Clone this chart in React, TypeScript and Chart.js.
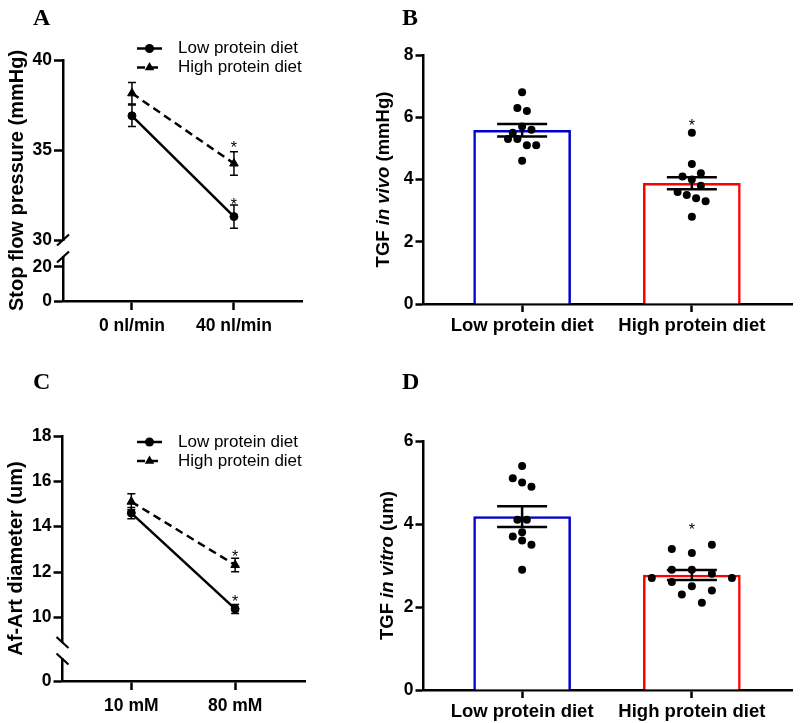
import React, { useEffect, useRef } from 'react';
import { Chart, registerables } from 'chart.js';

Chart.register(...registerables);

const SANS = "'Liberation Sans', Arial, Helvetica, sans-serif";
const SERIF = "'Liberation Serif', 'Times New Roman', serif";
const INK = '#000000';
const BLUE = '#0000cd';
const RED = '#ff0000';
const AXIS_W = 2.5;

const SERIES = ['Low protein diet', 'High protein diet'];

// ---------- Panel A ----------
const catsA = ['0 nl/min', '40 nl/min'];
const lowA = [36.9, 31.3];
const lowAErr = [0.6, 0.65];
const highA = [38.15, 34.25];
const highAErr = [0.6, 0.65];
const starsALow = [null, 32.2];
const starsAHigh = [null, 35.35];
const yTicksAUpper = [30, 35, 40];
const yTicksALower = [0, 20];
const titleA = [{ text: 'Stop flow pressure (mmHg)' }];

// ---------- Panel C ----------
const catsC = ['10 mM', '80 mM'];
const lowC = [14.6, 10.37];
const lowCErr = [0.25, 0.2];
const highC = [15.1, 12.31];
const highCErr = [0.35, 0.3];
const starsCLow = [null, 10.85];
const starsCHigh = [null, 12.85];
const yTicksCUpper = [10, 12, 14, 16, 18];
const yTicksCLower = [0];
const titleC = [{ text: 'Af-Art diameter (um)' }];

// ---------- Panel B ----------
const catsB = ['Low protein diet', 'High protein diet'];
const meanB = [5.58, 3.88];
const semB = [0.2, 0.19];
const starsB = [null, 5.87];
const ptsBLow = [6.8, 6.3, 6.2, 5.7, 5.5, 5.6, 5.3, 5.3, 5.1, 5.1, 4.6];
const jitBLow = [0, -0.028, 0.028, 0, -0.055, 0.055, -0.083, -0.028, 0.028, 0.083, 0];
const ptsBHigh = [5.5, 4.5, 4.1, 4.0, 4.2, 3.8, 3.6, 3.5, 3.4, 3.3, 2.8];
const jitBHigh = [0, 0, -0.055, 0, 0.053, 0.053, -0.084, -0.03, 0.025, 0.081, 0];
const yTicksB = [0, 2, 4, 6, 8];
const titleB = [{ text: 'TGF ' }, { text: 'in vivo', italic: true }, { text: ' (mmHg)' }];

// ---------- Panel D ----------
const catsD = ['Low protein diet', 'High protein diet'];
const meanD = [4.18, 2.77];
const semD = [0.25, 0.12];
const starsD = [null, 3.95];
const ptsDLow = [5.4, 5.1, 5.0, 4.9, 4.1, 4.1, 3.8, 3.7, 3.6, 3.5, 2.9];
const jitDLow = [0, -0.055, 0, 0.055, -0.028, 0.028, 0, -0.055, 0, 0.055, 0];
const ptsDHigh = [3.5, 3.4, 3.3, 2.9, 2.9, 2.8, 2.7, 2.7, 2.6, 2.5, 2.4, 2.3, 2.1];
const jitDHigh = [0.118, -0.118, 0, -0.118, 0, 0.118, -0.236, 0.236, -0.118, 0, 0.118, -0.059, 0.059];
const yTicksD = [0, 2, 4, 6];
const titleD = [{ text: 'TGF ' }, { text: 'in vitro', italic: true }, { text: ' (um)' }];

type Part = { text: string; italic?: boolean };

function drawMarker(ctx: CanvasRenderingContext2D, style: string, x: number, y: number, r: number) {
  ctx.fillStyle = INK;
  ctx.beginPath();
  if (style === 'triangle') {
    ctx.moveTo(x, y - r);
    ctx.lineTo(x + r * 0.866, y + r * 0.5);
    ctx.lineTo(x - r * 0.866, y + r * 0.5);
    ctx.closePath();
  } else {
    ctx.arc(x, y, r, 0, Math.PI * 2);
  }
  ctx.fill();
}

function drawTitle(ctx: CanvasRenderingContext2D, parts: Part[], cx: number, cy: number, size: number) {
  ctx.save();
  ctx.translate(cx, cy);
  ctx.rotate(-Math.PI / 2);
  const fonts = parts.map((p) => `${p.italic ? 'italic ' : ''}bold ${size}px ${SANS}`);
  let total = 0;
  const widths = parts.map((p, i) => {
    ctx.font = fonts[i];
    const w = ctx.measureText(p.text).width;
    total += w;
    return w;
  });
  let x = -total / 2;
  ctx.textBaseline = 'middle';
  ctx.textAlign = 'left';
  ctx.fillStyle = INK;
  parts.forEach((p, i) => {
    ctx.font = fonts[i];
    ctx.fillText(p.text, x, 0);
    x += widths[i];
  });
  ctx.restore();
}

const errorPlugin = {
  id: 'errorBars',
  afterDatasetsDraw(chart: any) {
    const ctx: CanvasRenderingContext2D = chart.ctx;
    chart.data.datasets.forEach((ds: any, di: number) => {
      const meta = chart.getDatasetMeta(di);
      const ys = meta.yScale;
      if (ds.errors) {
        meta.data.forEach((el: any, i: number) => {
          const v = ds.data[i].y;
          const e = ds.errors[i];
          const yt = ys.getPixelForValue(v + e);
          const yb = ys.getPixelForValue(v - e);
          ctx.save();
          ctx.strokeStyle = INK;
          ctx.lineWidth = ds.errLineWidth;
          ctx.beginPath();
          ctx.moveTo(el.x, yt);
          ctx.lineTo(el.x, yb);
          ctx.moveTo(el.x - ds.errCap, yt);
          ctx.lineTo(el.x + ds.errCap, yt);
          ctx.moveTo(el.x - ds.errCap, yb);
          ctx.lineTo(el.x + ds.errCap, yb);
          ctx.stroke();
          ctx.restore();
        });
      }
      if (ds.stars) {
        meta.data.forEach((el: any, i: number) => {
          const s = ds.stars[i];
          if (s == null) return;
          const y = ys.getPixelForValue(s);
          ctx.save();
          ctx.fillStyle = INK;
          ctx.font = `16px ${SANS}`;
          ctx.textAlign = 'center';
          ctx.textBaseline = 'alphabetic';
          ctx.fillText('*', el.x, y + 0.58 * 16);
          ctx.restore();
        });
      }
    });
  },
};

interface Decor {
  letter: string;
  letterX: number;
  letterY: number;
  title: Part[];
  titleX: number;
  titleSize: number;
  breaks?: { upper: string; lower: string; dir: number };
  legend?: { x: number; y: number; rowH: number; len: number; textX: number; size: number };
}

function decorPlugin(d: Decor) {
  return {
    id: 'decor',
    afterDraw(chart: any) {
      const ctx: CanvasRenderingContext2D = chart.ctx;
      const ca = chart.chartArea;
      ctx.save();
      ctx.fillStyle = INK;
      ctx.font = `bold 24px ${SERIF}`;
      ctx.textAlign = 'left';
      ctx.textBaseline = 'alphabetic';
      ctx.fillText(d.letter, d.letterX, d.letterY);
      drawTitle(ctx, d.title, d.titleX, (ca.top + ca.bottom) / 2, d.titleSize);
      if (d.breaks) {
        const up = chart.scales[d.breaks.upper];
        const lo = chart.scales[d.breaks.lower];
        const x = ca.left;
        [up.bottom, lo.top].forEach((y: number) => {
          ctx.strokeStyle = INK;
          ctx.lineWidth = 2.2;
          ctx.beginPath();
          ctx.moveTo(x - 6, y + 5.5 * d.breaks!.dir);
          ctx.lineTo(x + 6, y - 5.5 * d.breaks!.dir);
          ctx.stroke();
        });
      }
      if (d.legend) {
        const L = d.legend;
        chart.data.datasets.forEach((ds: any, i: number) => {
          const y = L.y + i * L.rowH;
          ctx.strokeStyle = ds.borderColor;
          ctx.lineWidth = ds.borderWidth;
          ctx.setLineDash(ds.borderDash || []);
          ctx.beginPath();
          ctx.moveTo(L.x, y);
          ctx.lineTo(L.x + L.len, y);
          ctx.stroke();
          ctx.setLineDash([]);
          drawMarker(ctx, ds.pointStyle, L.x + L.len / 2, y, ds.pointRadius + 0.5);
          ctx.fillStyle = INK;
          ctx.font = `${L.size}px ${SANS}`;
          ctx.textAlign = 'left';
          ctx.textBaseline = 'middle';
          ctx.fillText(ds.label, L.textX, y);
        });
      }
      ctx.restore();
    },
  };
}

function xAxis(min: number, max: number, cats: string[], height: number, size: number, tickLen: number, pad: number) {
  return {
    type: 'linear',
    position: 'bottom',
    min,
    max,
    offset: false,
    afterBuildTicks: (s: any) => {
      s.ticks = cats.map((_, i) => ({ value: i }));
    },
    afterFit: (s: any) => {
      s.height = height;
    },
    border: { display: true, color: INK, width: AXIS_W },
    grid: { display: true, offset: false, drawOnChartArea: false, drawTicks: true, tickLength: tickLen, tickWidth: AXIS_W, tickColor: INK },
    ticks: {
      color: INK,
      font: { family: SANS, size, weight: 'bold' },
      padding: pad,
      autoSkip: false,
      maxRotation: 0,
      minRotation: 0,
      callback: (v: any) => cats[v] ?? '',
    },
  };
}

function yAxis(o: any) {
  const s: any = {
    type: 'linear',
    position: 'left',
    min: o.min,
    max: o.max,
    afterBuildTicks: (sc: any) => {
      sc.ticks = o.ticks.map((v: number) => ({ value: v }));
    },
    afterFit: (sc: any) => {
      sc.width = o.width;
    },
    border: { display: true, color: INK, width: AXIS_W },
    grid: { display: true, drawOnChartArea: false, drawTicks: true, tickLength: o.tickLen, tickWidth: AXIS_W, tickColor: INK },
    ticks: { color: INK, font: { family: SANS, size: o.size, weight: 'bold' }, padding: 2, autoSkip: false },
  };
  if (o.stack) {
    s.stack = o.stack;
    s.stackWeight = o.stackWeight;
    s.weight = o.weight;
  }
  return s;
}

function gapAxis(stack: string, stackWeight: number, weight: number, width: number) {
  return {
    type: 'linear',
    position: 'left',
    min: 0,
    max: 1,
    stack,
    stackWeight,
    weight,
    afterFit: (sc: any) => {
      sc.width = width;
    },
    border: { display: false },
    grid: { display: false },
    ticks: { display: false },
  };
}

function lineSeries(label: string, vals: number[], errs: number[], stars: any[], axis: string, high: boolean) {
  return {
    label,
    data: vals.map((y, i) => ({ x: i, y })),
    yAxisID: axis,
    borderColor: INK,
    backgroundColor: INK,
    borderWidth: 2.5,
    borderDash: high ? [8, 5] : [],
    pointStyle: high ? 'triangle' : 'circle',
    pointRadius: high ? 5 : 4,
    pointBorderWidth: 1,
    pointBorderColor: INK,
    pointBackgroundColor: INK,
    errors: errs,
    errCap: 4,
    errLineWidth: 1.5,
    stars,
  };
}

function buildLine(p: any) {
  return {
    type: 'line',
    data: {
      datasets: [
        lineSeries(SERIES[0], p.low, p.lowErr, p.lowStars, 'yUp', false),
        lineSeries(SERIES[1], p.high, p.highErr, p.highStars, 'yUp', true),
      ],
    },
    options: {
      responsive: false,
      maintainAspectRatio: false,
      animation: false,
      events: [],
      layout: { padding: { top: p.padTop, right: p.padRight, left: 0, bottom: 0 } },
      plugins: { legend: { display: false }, tooltip: { enabled: false } },
      scales: {
        x: xAxis(p.xMin, p.xMax, p.cats, p.xHeight, 17.5, 9, 6),
        yLow: yAxis({ min: 0, max: p.lowMax, ticks: p.lowTicks, width: p.yWidth, size: 17.5, tickLen: 9, stack: 's', stackWeight: p.wLow, weight: 1 }),
        yGap: gapAxis('s', p.wGap, 2, p.yWidth),
        yUp: yAxis({ min: p.upMin, max: p.upMax, ticks: p.upTicks, width: p.yWidth, size: 17.5, tickLen: 9, stack: 's', stackWeight: p.wUp, weight: 3 }),
      },
    },
    plugins: [errorPlugin, decorPlugin(p.decor)],
  };
}

function buildBars(p: any) {
  const pts = [
    ...p.lowPts.map((y: number, i: number) => ({ x: 0 + p.lowJit[i], y })),
    ...p.highPts.map((y: number, i: number) => ({ x: 1 + p.highJit[i], y })),
  ];
  return {
    type: 'bar',
    data: {
      datasets: [
        {
          type: 'scatter',
          label: 'individual',
          data: pts,
          backgroundColor: INK,
          borderColor: INK,
          pointRadius: 4,
          pointBorderWidth: 0,
          order: 0,
        },
        {
          type: 'bar',
          label: 'mean',
          data: p.means.map((y: number, i: number) => ({ x: i, y })),
          backgroundColor: '#ffffff',
          borderColor: [BLUE, RED],
          borderWidth: 2.5,
          barThickness: 97,
          order: 1,
          errors: p.sems,
          errCap: 25,
          errLineWidth: 2.5,
          stars: p.stars,
        },
      ],
    },
    options: {
      responsive: false,
      maintainAspectRatio: false,
      animation: false,
      events: [],
      layout: { padding: { top: p.padTop, right: p.padRight, left: 0, bottom: 0 } },
      plugins: { legend: { display: false }, tooltip: { enabled: false } },
      scales: {
        x: xAxis(-0.581, 1.59, p.cats, p.xHeight, 18.5, 8, 3),
        y: yAxis({ min: 0, max: p.yMax, ticks: p.yTicks, width: 58.5, size: 17.5, tickLen: 8 }),
      },
    },
    plugins: [errorPlugin, decorPlugin(p.decor)],
  };
}

const buildA = () =>
  buildLine({
    cats: catsA, low: lowA, lowErr: lowAErr, high: highA, highErr: highAErr,
    lowStars: starsALow, highStars: starsAHigh,
    xMin: -0.676, xMax: 1.667, xHeight: 61, padTop: 60, padRight: 63, yWidth: 63,
    lowMax: 25.7, lowTicks: yTicksALower, upMin: 30, upMax: 40, upTicks: yTicksAUpper,
    wLow: 44, wGap: 17, wUp: 180,
    decor: {
      letter: 'A', letterX: 33, letterY: 25, title: titleA, titleX: 17, titleSize: 20,
      breaks: { upper: 'yUp', lower: 'yLow', dir: 1 },
      legend: { x: 137, y: 48.5, rowH: 19, len: 25, textX: 178, size: 17 },
    },
  });

const buildC = () =>
  buildLine({
    cats: catsC, low: lowC, lowErr: lowCErr, high: highC, highErr: highCErr,
    lowStars: starsCLow, highStars: starsCHigh,
    xMin: -0.663, xMax: 1.673, xHeight: 42, padTop: 74, padRight: 60, yWidth: 62.5,
    lowMax: 1, lowTicks: yTicksCLower, upMin: 8.89, upMax: 18, upTicks: yTicksCUpper,
    wLow: 22, wGap: 16.5, wUp: 206.5,
    decor: {
      letter: 'C', letterX: 33, letterY: 27, title: titleC, titleX: 16, titleSize: 20,
      breaks: { upper: 'yUp', lower: 'yLow', dir: -1 },
      legend: { x: 137, y: 80, rowH: 19, len: 25, textX: 178, size: 17 },
    },
  });

const buildB = () =>
  buildBars({
    cats: catsB, means: meanB, sems: semB, stars: starsB,
    lowPts: ptsBLow, lowJit: jitBLow, highPts: ptsBHigh, highJit: jitBHigh,
    yMax: 8, yTicks: yTicksB, padTop: 55, padRight: 8, xHeight: 58,
    decor: { letter: 'B', letterX: 37, letterY: 25, title: titleB, titleX: 19, titleSize: 18.5 },
  });

const buildD = () =>
  buildBars({
    cats: catsD, means: meanD, sems: semD, stars: starsD,
    lowPts: ptsDLow, lowJit: jitDLow, highPts: ptsDHigh, highJit: jitDHigh,
    yMax: 6, yTicks: yTicksD, padTop: 79, padRight: 8, xHeight: 33,
    decor: { letter: 'D', letterX: 37, letterY: 27, title: titleD, titleX: 23, titleSize: 18.5 },
  });

function Panel({ left, top, width, height, build }: any) {
  const ref = useRef<HTMLCanvasElement>(null);
  useEffect(() => {
    const chart = new Chart(ref.current as HTMLCanvasElement, build());
    return () => chart.destroy();
  }, [build]);
  return (
    <canvas
      ref={ref}
      width={width}
      height={height}
      style={{ position: 'absolute', left, top, width, height, display: 'block' }}
    />
  );
}

export default function App() {
  return (
    <div style={{ position: 'absolute', left: 0, top: 0, width: 800, height: 723, background: '#ffffff', overflow: 'hidden' }}>
      <Panel left={0} top={0} width={365} height={362} build={buildA} />
      <Panel left={365} top={0} width={435} height={362} build={buildB} />
      <Panel left={0} top={362} width={365} height={361} build={buildC} />
      <Panel left={365} top={362} width={435} height={361} build={buildD} />
    </div>
  );
}
